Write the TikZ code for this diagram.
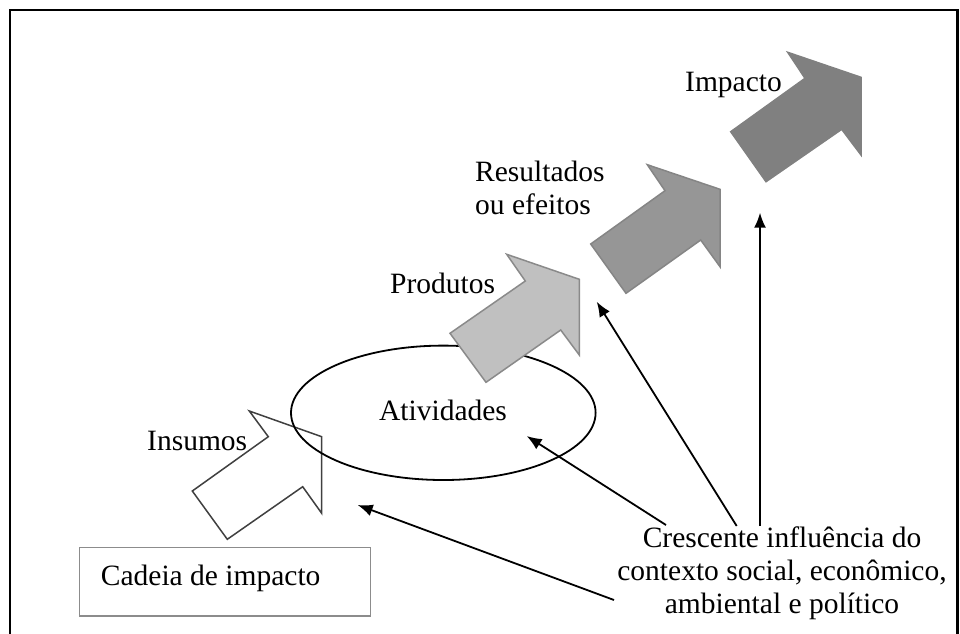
\documentclass[tikz,border=0pt]{standalone}
\usepackage{fontspec}
\setmainfont{Liberation Serif}
\usetikzlibrary{arrows.meta,shapes.geometric}
\definecolor{insline}{HTML}{404040}
\definecolor{prodfill}{HTML}{C0C0C0}
\definecolor{prodline}{HTML}{8A8A8A}
\definecolor{resfill}{HTML}{969696}
\definecolor{resline}{HTML}{858585}
\definecolor{impfill}{HTML}{808080}
\definecolor{boxline}{HTML}{8C8C8C}
\tikzset{
  lbl/.style={font=\fontsize{29.5}{33}\selectfont, inner sep=0pt},
  bigarrow/.style={line width=1.5pt, line join=miter},
  influence/.style={line width=1.8pt, -{Latex[length=15pt,width=12pt]}},
}
\begin{document}
\begin{tikzpicture}[x=1pt,y=-1pt]
\useasboundingbox (0,0) rectangle (960,633);
% frame
\draw[line width=2.2pt] (10,645) -- (10,10) -- (957.5,10) -- (957.5,645);
% Insumos arrow
\draw[bigarrow, draw=insline, fill=white] (192.3,491) -- (268.3,436.7) -- (249.3,411) -- (321.7,436.7) -- (321.7,513.3) -- (302.7,486.7) -- (227.3,539.3) -- cycle;
% ellipse
\node[draw, ellipse, line width=1.8pt, minimum width=304.6pt, minimum height=134.4pt, inner sep=0pt] (ell) at (443.3,412.8) {};
% Produtos arrow
\draw[bigarrow, draw=prodline, fill=prodfill] (450,333.3) -- (525.3,281) -- (506.7,254.3) -- (579.3,279.3) -- (579.3,355) -- (560.7,330) -- (486,382.3) -- cycle;
% Resultados arrow
\draw[bigarrow, draw=resline, fill=resfill] (590.7,244) -- (665,190.7) -- (647.3,164.7) -- (720,189.3) -- (720,266.7) -- (700.7,240) -- (626,293.3) -- cycle;
% Impacto arrow
\draw[bigarrow, draw=impfill, fill=impfill] (730.7,131.7) -- (805,78.3) -- (787.7,52.3) -- (861,77.3) -- (861,155) -- (841.7,129.3) -- (766,181.7) -- cycle;
% labels
\node[lbl, anchor=base west] (ins) at (147,450) {Insumos};
\node[lbl, anchor=base] (atv) at (443,420) {Atividades};
\node[lbl, anchor=base west] (prod) at (390,293.3) {Produtos};
\node[lbl, anchor=base west, align=left] (res) at (475,214) {Resultados\\ou efeitos};
\node[lbl, anchor=base west] (imp) at (685,91.7) {Impacto};
% Cadeia box
\node[draw=boxline, line width=1.3pt, minimum width=291.4pt, minimum height=68.3pt, inner sep=0pt] (cad) at (225,581.85) {};
\node[lbl, anchor=base west] (cadt) at (100.7,585) {Cadeia de impacto};
% influence text
\node[lbl, anchor=base, align=center] (inf) at (782,613.5) {Crescente influência do\\contexto social, econômico,\\ambiental e político};
% connectors
\coordinate (s1) at (614,600);
\coordinate (s2) at (666,525);
\coordinate (s3) at (736.7,526);
\coordinate (s4) at (760,526);
\coordinate (t1) at (357.7,505);
\coordinate (t2) at (526.7,436);
\coordinate (t3) at (596.7,301.7);
\coordinate (t4) at (760,212.7);
\draw[influence] (s1) -- (t1);
\draw[influence] (s2) -- (t2);
\draw[influence] (s3) -- (t3);
\draw[influence] (s4) -- (t4);
\end{tikzpicture}
\end{document}
